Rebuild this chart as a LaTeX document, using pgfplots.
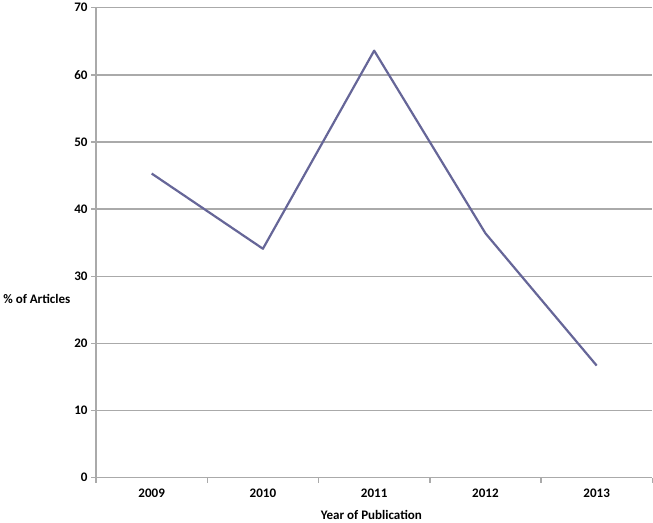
\documentclass[border=0pt]{standalone}
\usepackage{fontspec}
\setmainfont{Carlito}
\usepackage{pgfplots}
\pgfplotsset{compat=1.18}
\definecolor{linecol}{RGB}{102,102,152}
\definecolor{gridcol}{RGB}{170,170,170}
\begin{document}
\begin{tikzpicture}
\begin{axis}[
  scale only axis, width=555pt, height=469pt,
  xmin=-0.5, xmax=4.5, ymin=0, ymax=70,
  axis x line*=bottom, axis y line*=left,
  axis line style={gridcol, line width=1.4pt},
  xtick={0,1,2,3,4}, xticklabels={2009,2010,2011,2012,2013},
  minor xtick={-0.5,0.5,1.5,2.5,3.5,4.5},
  major x tick style={draw=none},
  minor x tick style={gridcol, line width=1.4pt},
  ytick={0,10,...,70},
  ymajorgrids, grid style={gridcol, line width=1.4pt},
  major y tick style={gridcol, line width=1.4pt},
  tick align=outside, major tick length=5pt, minor tick length=5pt,
  ticklabel style={font=\fontsize{13}{15}\selectfont\bfseries},
  /pgf/number format/assume math mode=true,
  xticklabel style={yshift=-3pt},
  xlabel={Year of Publication}, ylabel={\% of Articles},
  every axis x label/.style={at={(axis description cs:0.495,-0.079)}, anchor=center, font=\fontsize{13}{15}\selectfont\bfseries},
  every axis y label/.style={at={(axis description cs:-0.173,0.38)}, anchor=west, font=\fontsize{13}{15}\selectfont\bfseries},
  clip=false,
]
\addplot[linecol, line width=2.2pt, line join=round] coordinates {
  (0,45.3) (1,34.1) (2,63.6) (3,36.4) (4,16.7)
};
\end{axis}
\end{tikzpicture}
\end{document}
